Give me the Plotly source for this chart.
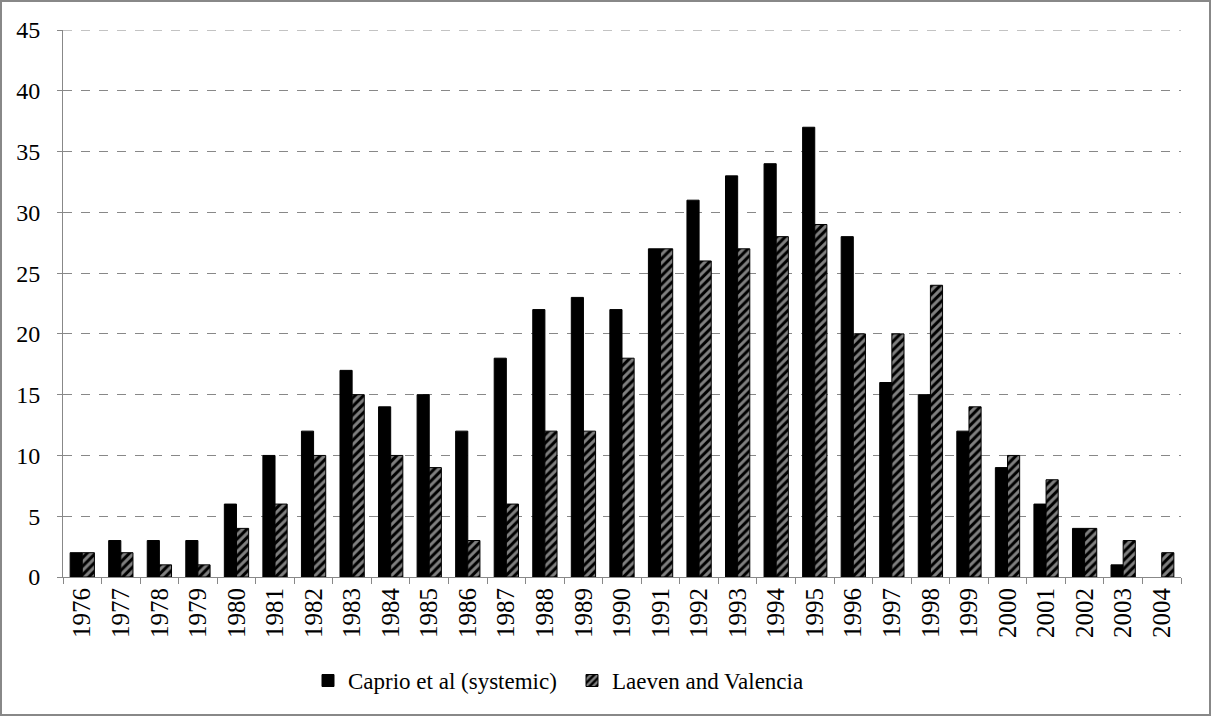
import plotly.graph_objects as go

years = [str(y) for y in range(1976, 2005)]
caprio = [2, 3, 3, 3, 6, 10, 12, 17, 14, 15, 12, 18, 22, 23, 22,
          27, 31, 33, 34, 37, 28, 16, 15, 12, 9, 6, 4, 1, None]
laeven = [2, 2, 1, 1, 4, 6, 10, 15, 10, 9, 3, 6, 12, 12, 18,
          27, 26, 27, 28, 29, 20, 20, 24, 14, 10, 8, 4, 3, 2]

W, H = 1212, 717
L, R, T, B = 63, 31, 30, 140
pw, ph = W - L - R, H - T - B
FONT = 'Liberation Serif, Times New Roman, serif'

fig = go.Figure()
fig.add_trace(go.Bar(
    x=years, y=caprio, name='Caprio et al (systemic)',
    marker=dict(color='black', line=dict(color='black', width=1))
))
fig.add_trace(go.Bar(
    x=years, y=laeven, name='Laeven and Valencia',
    marker=dict(color='black', line=dict(color='black', width=1),
                pattern=dict(shape='/', fgcolor='white', bgcolor='black',
                             size=6, solidity=0.5))
))

# outer chart border
fig.add_shape(type='rect', xref='paper', yref='paper',
              x0=(1 - L) / pw, x1=(W - 2 - L) / pw,
              y0=-(H - 2 - T - ph) / ph, y1=(ph + T - 1) / ph,
              line=dict(color='#888888', width=2), layer='below')
# top gridline at 45
fig.add_shape(type='line', xref='paper', yref='y', x0=0, x1=1, y0=45, y1=45,
              line=dict(color='#888888', width=1, dash='dash'), layer='below')

fig.update_layout(
    width=W, height=H,
    margin=dict(l=L, r=R, t=T, b=B),
    paper_bgcolor='white', plot_bgcolor='white',
    barmode='group', bargap=0.37, bargroupgap=0,
    font=dict(family=FONT, size=23, color='black'),
    legend=dict(orientation='h', x=(308 - L) / pw, xanchor='left', y=-0.15, yanchor='top',
                font=dict(family=FONT, size=23, color='black'),
                itemwidth=30, entrywidth=219, traceorder='normal'),
    showlegend=True,
)
fig.update_xaxes(
    type='category', tickangle=-90, tickson='boundaries',
    ticks='outside', ticklen=6, tickcolor='#888888',
    showline=True, linecolor='#888888', linewidth=1,
    showgrid=False, tickfont=dict(family=FONT, size=25, color='black'),
)
fig.update_yaxes(
    range=[0, 45], dtick=5, tick0=0,
    ticks='outside', ticklen=5, tickcolor='#888888',
    showline=True, linecolor='#888888', linewidth=1,
    showgrid=True, gridcolor='#888888', griddash='dash', gridwidth=1,
    zeroline=False, ticklabelstandoff=12,
    tickfont=dict(family=FONT, size=24, color='black'),
)

fig.write_html("out.html", config={'displayModeBar': False},
               post_script="document.body.style.margin='0';")
